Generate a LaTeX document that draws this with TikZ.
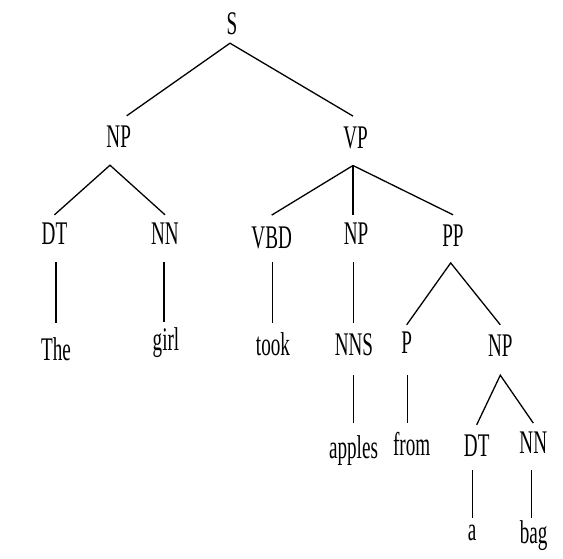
\documentclass[tikz,border=0pt]{standalone}
\usepackage{fontspec}
\newfontfamily\treefont[FakeStretch=0.58]{Liberation Serif}
\begin{document}
\begin{tikzpicture}[x=1pt,y=-1pt,
  lab/.style={anchor=base,inner sep=0pt,text height=32pt,text depth=17pt,
    font=\treefont\fontsize{33}{33}\selectfont},
  edge/.style={line width=1.3pt}]
\useasboundingbox (0,0) rectangle (563,559);
% level 0
\node[lab,text depth=8pt] (s) at (232,35) {S};
% level 1
\node[lab] (np1) at (118.7,148) {NP};
\node[lab] (vp) at (355.6,148.3) {VP};
% level 2
\node[lab,text height=30pt] (dt1) at (54.5,245) {DT};
\node[lab,text height=30pt] (nn1) at (165,245) {NN};
\node[lab,text height=33pt,text depth=13.4pt] (vbd) at (271.7,248.3) {VBD};
\node[lab,text height=30pt] (np2) at (356,245) {NP};
\node[lab,text height=31.7pt,text depth=16pt] (pp) at (453,246.7) {PP};
% level 3
\node[lab,text height=36.7pt] (the) at (56,360) {The};
\node[lab,text height=28pt] (girl) at (166,350) {girl};
\node[lab,text height=31.7pt] (took) at (273,355) {took};
\node[lab,text height=31.7pt,text depth=20pt] (nns) at (354,355) {NNS};
\node[lab,text height=28.3pt,text depth=21.7pt] (p) at (406.7,353.3) {P};
\node[lab,text height=31.7pt,text depth=18.3pt] (np3) at (500.3,356.7) {NP};
% level 4
\node[lab,text height=35pt] (apples) at (353.5,458) {apples};
\node[lab,text height=32.3pt] (from) at (411.7,455) {from};
\node[lab,text height=31.7pt,text depth=13.3pt] (dt3) at (476.7,456.7) {DT};
\node[lab,text height=30pt,text depth=16.7pt] (nn3) at (533.3,453.3) {NN};
% level 5
\node[lab,text height=21.7pt] (a) at (472,540) {a};
\node[lab,text height=24.7pt] (bag) at (533.7,543) {bag};
% connectors
\draw[edge] (np1.north -| 126.7,0) -- ([xshift=-2pt]s.south) -- ([xshift=-2.6pt]vp.north);
\draw[edge] (dt1.north) -- ([xshift=-8.7pt]np1.south) -- (nn1.north);
\draw[edge] (vbd.north) -- ([xshift=-2.6pt]vp.south) -- (pp.north);
\draw[edge] ([xshift=-2.6pt]vp.south) -- ([xshift=-2.6pt]vp.south |- np2.north);
\draw[edge] (p.north) -- ([xshift=-2.3pt]pp.south) -- (np3.north);
\draw[edge] (dt3.north) -- (np3.south) -- (nn3.north);
% unary branches
\draw[edge] ([xshift=1.5pt]dt1.south) -- ([xshift=1.5pt]dt1.south |- the.north);
\draw[edge] ([xshift=-1pt]nn1.south) -- ([xshift=-1pt]nn1.south |- girl.north);
\draw[edge] ([xshift=0.6pt]vbd.south) -- ([xshift=0.6pt]vbd.south |- took.north);
\draw[edge] ([xshift=-2.7pt]np2.south) -- ([xshift=-2.7pt]np2.south |- nns.north);
\draw[edge] ([xshift=-0.7pt]nns.south) -- ([xshift=-0.7pt]nns.south |- apples.north);
\draw[edge] ([xshift=0.6pt]p.south) -- ([xshift=0.6pt]p.south |- from.north);
\draw[edge] ([xshift=-4pt]dt3.south) -- ([xshift=-4pt]dt3.south |- a.north);
\draw[edge] ([xshift=-1.6pt]nn3.south) -- ([xshift=-1.6pt]nn3.south |- bag.north);
\end{tikzpicture}
\end{document}
